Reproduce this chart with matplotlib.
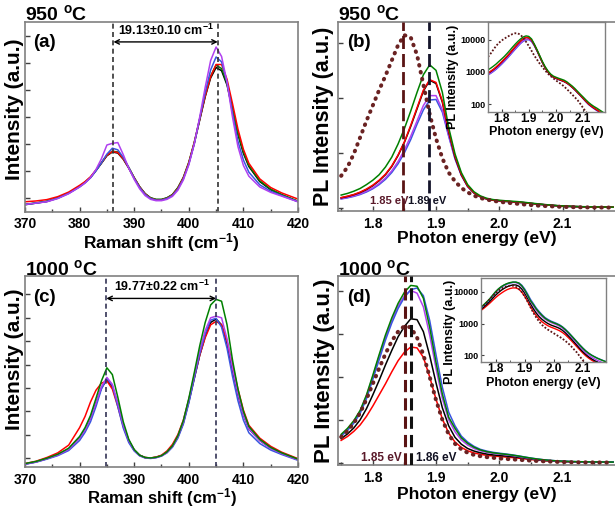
import numpy as np
import matplotlib
matplotlib.use('Agg')
from matplotlib import pyplot as plt
from matplotlib.ticker import MultipleLocator, NullLocator

plt.rcParams['font.family'] = ['Liberation Sans', 'DejaVu Sans']
plt.rcParams['font.weight'] = 'bold'
plt.rcParams['mathtext.fontset'] = 'custom'
plt.rcParams['mathtext.rm'] = 'Liberation Sans:bold'
plt.rcParams['mathtext.bf'] = 'Liberation Sans:bold'
plt.rcParams['mathtext.default'] = 'rm'

W, H = 615, 508

# ---------------- Raman data (a.u.) ----------------
raman_x = [370, 372, 374, 376, 378,
           380, 381, 382, 383, 384, 385, 386, 387, 388, 389,
           390, 391, 392, 393, 394, 395, 396, 397, 398, 399,
           400, 401, 402, 403, 404, 405, 406, 407, 408, 409,
           410, 411,
           413, 415, 417, 420]

# 950 C
ra_black = [-0.26, -0.2, -0.14, -0.01, 0.17,
            0.42, 0.57, 0.75, 1.01, 1.28, 1.56, 1.70, 1.66, 1.43, 1.10,
            0.73, 0.40, 0.15, -0.01, -0.07, -0.07, -0.01, 0.11, 0.36, 0.73,
            1.28, 2.02, 2.89, 3.75, 4.45, 4.84, 4.72, 4.19, 3.28, 2.35,
            1.65, 1.16,
            0.60, 0.30, 0.11, -0.14]
ra_green = [-0.25, -0.19, -0.13, 0.0, 0.18,
            0.43, 0.58, 0.76, 1.02, 1.30, 1.58, 1.73, 1.70, 1.47, 1.13,
            0.75, 0.41, 0.15, 0.0, -0.06, -0.06, 0.0, 0.12, 0.38, 0.76,
            1.32, 2.06, 2.93, 3.80, 4.52, 4.93, 4.80, 4.25, 3.33, 2.40,
            1.70, 1.20,
            0.63, 0.32, 0.12, -0.13]
ra_red = [-0.15, -0.12, -0.07, 0.04, 0.21,
          0.46, 0.60, 0.78, 1.03, 1.30, 1.58, 1.72, 1.68, 1.45, 1.11,
          0.74, 0.40, 0.14, -0.02, -0.08, -0.08, -0.02, 0.10, 0.35, 0.74,
          1.30, 2.05, 2.92, 3.78, 4.50, 4.95, 4.95, 4.40, 3.50, 2.55,
          1.80, 1.28,
          0.70, 0.38, 0.18, -0.05]
ra_blue = [-0.25, -0.2, -0.14, -0.02, 0.16,
           0.40, 0.55, 0.74, 1.00, 1.30, 1.62, 1.84, 1.78, 1.50, 1.12,
           0.72, 0.38, 0.12, -0.03, -0.09, -0.09, -0.03, 0.08, 0.32, 0.70,
           1.25, 2.00, 2.95, 3.90, 4.75, 5.23, 5.05, 4.30, 3.15, 2.10,
           1.40, 0.95,
           0.48, 0.24, 0.08, -0.15]
ra_purple = [-0.25, -0.2, -0.15, -0.03, 0.15,
             0.40, 0.55, 0.75, 1.05, 1.45, 1.96, 2.02, 2.05, 1.60, 1.10,
             0.68, 0.33, 0.08, -0.06, -0.11, -0.11, -0.06, 0.05, 0.28, 0.66,
             1.22, 2.00, 3.00, 4.10, 5.10, 5.60, 5.25, 4.30, 3.00, 1.90,
             1.20, 0.80,
             0.40, 0.20, 0.06, -0.15]

# 1000 C
rc_black = [-0.26, -0.17, -0.03, 0.14, 0.38,
            0.86, 1.22, 1.71, 2.35, 3.00, 3.35, 3.05, 2.30, 1.40, 0.75,
            0.35, 0.12, 0.02, 0.0, 0.03, 0.10, 0.25, 0.50, 0.90, 1.50,
            2.40, 3.40, 4.40, 5.20, 5.80, 5.95, 5.70, 4.90, 3.75, 2.70,
            1.85, 1.25,
            0.75, 0.42, 0.20, -0.07]
rc_green = [-0.24, -0.15, -0.01, 0.16, 0.42,
            0.92, 1.30, 1.82, 2.55, 3.30, 3.86, 3.57, 2.60, 1.55, 0.80,
            0.36, 0.12, 0.02, 0.0, 0.03, 0.10, 0.26, 0.52, 0.95, 1.60,
            2.55, 3.65, 4.80, 5.80, 6.55, 6.79, 6.71, 5.71, 4.20, 2.95,
            2.00, 1.35,
            0.80, 0.45, 0.22, -0.05]
rc_red = [-0.24, -0.14, 0.02, 0.22, 0.55,
          1.30, 1.78, 2.40, 2.90, 3.20, 3.30, 2.95, 2.20, 1.35, 0.72,
          0.33, 0.11, 0.02, 0.0, 0.04, 0.12, 0.30, 0.58, 1.00, 1.62,
          2.50, 3.45, 4.40, 5.15, 5.70, 5.85, 5.70, 5.00, 4.00, 2.95,
          2.05, 1.40,
          0.85, 0.50, 0.25, -0.03]
rc_blue = [-0.27, -0.18, -0.05, 0.10, 0.32,
           0.75, 1.10, 1.55, 2.20, 2.95, 3.40, 3.10, 2.20, 1.28, 0.66,
           0.30, 0.09, 0.0, -0.02, 0.01, 0.08, 0.22, 0.46, 0.85, 1.45,
           2.35, 3.40, 4.45, 5.30, 5.90, 5.98, 5.60, 4.70, 3.50, 2.45,
           1.62, 1.08,
           0.62, 0.34, 0.15, -0.1]
rc_purple = [-0.26, -0.17, -0.03, 0.13, 0.37,
             0.85, 1.20, 1.70, 2.35, 3.05, 3.45, 3.15, 2.35, 1.42, 0.75,
             0.34, 0.11, 0.01, -0.01, 0.02, 0.09, 0.24, 0.50, 0.92, 1.55,
             2.50, 3.55, 4.60, 5.45, 6.00, 6.07, 6.00, 5.10, 3.85, 2.75,
             1.85, 1.25,
             0.74, 0.41, 0.19, -0.08]

# ---------------- PL data (counts) ----------------
pl_x = np.round(np.arange(1.75, 2.185, 0.01), 2)

# 950 C
pb_maroon = [2900, 3700, 4900, 6400, 7900,
             9300, 10700, 12000, 13400, 14800,
             15700, 15500, 13900, 11200, 8500,
             6300, 4500, 3200, 2400, 1800,
             1400, 1100, 880, 740, 630,
             540, 470, 410, 350, 290,
             240, 195, 160, 130, 100,
             75, 58, 45, 35, 28,
             22, 18, 14, 11]
pb_green = [1150, 1300, 1500, 1750, 2100,
            2500, 3000, 3700, 4600, 5800,
            7200, 8800, 10500, 12100, 13000,
            12500, 10500, 7300, 4900, 3200,
            2100, 1450, 1080, 860, 740,
            680, 630, 590, 550, 490,
            420, 360, 300, 245, 200,
            165, 135, 112, 96, 84,
            75, 66, 58, 51]
pb_black = [900, 1020, 1180, 1380, 1650,
            2000, 2450, 3000, 3750, 4750,
            5950, 7400, 9000, 10600, 11600,
            11300, 9600, 6900, 4600, 3000,
            1950, 1350, 1000, 800, 690,
            630, 580, 540, 500, 450,
            390, 330, 275, 225, 185,
            150, 122, 100, 86, 75,
            66, 58, 51, 45]
pb_red = [920, 1050, 1200, 1420, 1700,
          2050, 2500, 3050, 3800, 4800,
          6000, 7500, 9100, 10700, 11650,
          11400, 9700, 7000, 4700, 3050,
          1980, 1370, 1010, 810, 700,
          640, 590, 550, 505, 455,
          395, 335, 280, 228, 187,
          152, 124, 102, 87, 76,
          67, 59, 52, 46]
pb_purple = [820, 930, 1070, 1250, 1500,
             1800, 2200, 2700, 3350, 4200,
             5250, 6500, 7900, 9300, 10200,
             10200, 8900, 6600, 4500, 2950,
             1920, 1330, 990, 790, 680,
             620, 575, 535, 495, 445,
             385, 325, 270, 220, 180,
             146, 118, 97, 83, 72,
             63, 55, 48, 42]
pb_blue = [800, 900, 1030, 1200, 1430,
           1720, 2100, 2580, 3200, 4000,
           5000, 6200, 7600, 8900, 9800,
           9850, 8700, 6500, 4450, 2950,
           1930, 1340, 1000, 800, 690,
           630, 580, 540, 500, 450,
           390, 330, 275, 224, 183,
           148, 120, 98, 84, 73,
           64, 56, 49, 43]

# 1000 C
pd_maroon = [3000, 3700, 4600, 5800, 7400,
             9200, 11000, 12700, 14200, 15300,
             15950, 15800, 14600, 12600, 10000,
             7300, 5000, 3300, 2200, 1550,
             1150, 900, 750, 640, 560,
             490, 430, 380, 330, 280,
             235, 190, 150, 120, 90,
             68, 52, 40, 31, 25,
             20, 16, 13, 11]
pd_green = [3300, 4000, 4900, 6100, 7900,
            10200, 12600, 14900, 16900, 18600,
            19900, 20700, 20600, 19200, 15800,
            11700, 8000, 5300, 4000, 2900,
            2250, 1800, 1480, 1280, 1150,
            1050, 970, 880, 770, 640,
            520, 415, 330, 260, 205,
            165, 135, 114, 99, 88,
            79, 72, 66, 61]
pd_blue = [3100, 3750, 4600, 5750, 7450,
           9700, 12000, 14300, 16300, 18000,
           19300, 20200, 20400, 19500, 16600,
           12600, 8800, 5900, 4300, 3100,
           2400, 1900, 1550, 1350, 1200,
           1100, 1010, 910, 790, 660,
           535, 425, 335, 265, 210,
           168, 137, 115, 100, 89,
           80, 73, 67, 62]
pd_purple = [3200, 3900, 4800, 6000, 7800,
             10000, 12400, 14600, 16600, 18300,
             19500, 20100, 19800, 18200, 14900,
             11000, 7500, 5000, 3600, 2650,
             2050, 1650, 1380, 1200, 1080,
             990, 910, 820, 710, 590,
             480, 380, 300, 235, 185,
             148, 120, 100, 86, 76,
             68, 62, 56, 52]
pd_black = [2800, 3350, 4050, 5000, 6300,
            7900, 9600, 11400, 13100, 14700,
            15900, 16800, 16700, 15300, 12500,
            9300, 6400, 4300, 2950, 2150,
            1650, 1350, 1150, 1000, 900,
            830, 770, 700, 610, 510,
            410, 330, 260, 205, 160,
            128, 105, 88, 76, 67,
            60, 54, 49, 45]
pd_red = [2600, 3050, 3650, 4400, 5400,
          6600, 7900, 9200, 10600, 11900,
          12900, 13500, 13400, 12300, 10000,
          7400, 5100, 3450, 2400, 1780,
          1380, 1130, 970, 850, 770,
          710, 650, 590, 520, 440,
          360, 290, 230, 182, 145,
          116, 95, 80, 69, 61,
          55, 50, 45, 41]

C_PURPLE = '#b040f0'
C_BLUE = '#3a55e0'
C_RED = '#ff0000'
C_BLACK = '#000000'
C_GREEN = '#008000'
C_MAROON = '#5a1414'
C_DOTS = '#6a2222'
C_SPINE = '#808080'


def box(l, t, r, b):
    return [l / W, 1 - b / H, (r - l) / W, (b - t) / H]


def style_main(ax, pad):
    for s in ax.spines.values():
        s.set_color(C_SPINE)
        s.set_linewidth(1.2)
    ax.tick_params(which='both', direction='in', top=False, right=False,
                   labelleft=False, color='#404040', labelsize=10, pad=pad)
    ax.tick_params(which='major', length=3.5, width=1)
    ax.tick_params(which='minor', length=2, width=1)
    ax.tick_params(axis='y', which='minor', left=False)


def style_inset(ax):
    for s in ax.spines.values():
        s.set_color(C_SPINE)
        s.set_linewidth(1.0)
    ax.set_yscale('log')
    ax.set_xlim(1.75, 2.18)
    ax.set_yticks([100, 1000, 10000])
    ax.set_yticklabels(['100', '1000', '10000'])
    ax.yaxis.set_minor_locator(NullLocator())
    ax.xaxis.set_major_locator(MultipleLocator(0.1))
    ax.xaxis.set_minor_locator(MultipleLocator(0.05))
    ax.tick_params(which='both', direction='in', top=False, right=False, color='#404040')
    ax.tick_params(axis='y', labelsize=6.5, pad=1.5, length=2.5)
    ax.tick_params(axis='x', labelsize=8.5, pad=1, length=2.5)
    ax.tick_params(axis='x', which='minor', length=1.5)
    ax.set_ylabel('PL Intensity (a.u.)', fontsize=9, fontweight='bold')
    ax.set_xlabel('Photon energy (eV)', fontsize=9, fontweight='bold', va='top')


def dots(ax, ys):
    # the dotted maroon series, drawn as a chain of round dots
    ax.plot(pl_x, ys, color=C_DOTS, lw=2.9, linestyle=(0, (0.15, 1.6)),
            dash_capstyle='round', zorder=5)


fig = plt.figure(figsize=(W / 100, H / 100), dpi=100)

# ---------------- (a) ----------------
ax = fig.add_axes(box(25, 22, 298, 212))
for ys, c in [(ra_black, C_BLACK), (ra_green, C_GREEN), (ra_red, C_RED),
              (ra_blue, C_BLUE), (ra_purple, C_PURPLE)]:
    ax.plot(raman_x, ys, color=c, lw=1.1)
ax.set_xlim(370, 420)
ax.set_ylim(-0.53, 6.53)
ax.yaxis.set_major_locator(MultipleLocator(1))
ax.xaxis.set_major_locator(MultipleLocator(10))
ax.xaxis.set_minor_locator(MultipleLocator(5))
style_main(ax, 3.5)
for xv in (386.2, 405.3):
    ax.axvline(xv, color='#333333', lw=1.2, dashes=(3, 2))
ax.annotate('', xy=(405.3, 5.79), xytext=(386.2, 5.79),
            arrowprops=dict(arrowstyle='<->', lw=1, color='k', mutation_scale=8,
                            shrinkA=0, shrinkB=0))
ax.text(395.75, 5.95, '19.13\u00b10.10 cm$^{-1}$', ha='center', va='bottom',
        fontsize=9, fontweight='bold')
ax.set_xlabel('Raman shift (cm$^{-1}$)', fontsize=12.5, fontweight='bold', va='top')
ax.xaxis.set_label_coords(0.5, -0.1)
ax.set_ylabel('Intensity (a.u.)', fontsize=15, fontweight='bold')
ax.yaxis.set_label_coords(-0.003, 0.54)

# ---------------- (c) ----------------
ax = fig.add_axes(box(25, 276, 298, 467))
for ys, c in [(rc_black, C_BLACK), (rc_red, C_RED), (rc_blue, C_BLUE),
              (rc_purple, C_PURPLE), (rc_green, C_GREEN)]:
    ax.plot(raman_x, ys, color=c, lw=1.1)
ax.set_xlim(370, 420)
ax.set_ylim(-0.386, 7.79)
ax.yaxis.set_major_locator(MultipleLocator(1))
ax.xaxis.set_major_locator(MultipleLocator(10))
ax.xaxis.set_minor_locator(MultipleLocator(5))
style_main(ax, 4.5)
for xv in (384.9, 405.0):
    ax.axvline(xv, color='#333355', lw=1.2, dashes=(3, 2))
ax.annotate('', xy=(405.0, 6.83), xytext=(384.9, 6.83),
            arrowprops=dict(arrowstyle='<->', lw=1, color='k', mutation_scale=8,
                            shrinkA=0, shrinkB=0))
ax.text(395.0, 7.0, '19.77\u00b10.22 cm$^{-1}$', ha='center', va='bottom',
        fontsize=9, fontweight='bold')
ax.set_xlabel('Raman shift (cm$^{-1}$)', fontsize=12, fontweight='bold', va='top')
ax.xaxis.set_label_coords(0.5, -0.1)
ax.set_ylabel('Intensity (a.u.)', fontsize=15, fontweight='bold')
ax.yaxis.set_label_coords(-0.003, 0.565)

# ---------------- (b) ----------------
ax = fig.add_axes(box(338, 22, 615, 211))
for ys, c in [(pb_blue, C_BLUE), (pb_purple, C_PURPLE), (pb_black, C_BLACK),
              (pb_red, C_RED), (pb_green, C_GREEN)]:
    ax.plot(pl_x, ys, color=c, lw=1.1)
dots(ax, pb_maroon)
ax.axvline(1.848, color=C_MAROON, lw=2, dashes=(4.7, 1.8), zorder=6)
ax.axvline(1.889, color='#14142a', lw=2, dashes=(4.7, 1.8), zorder=6)
ax.set_xlim(1.745, 2.183)
ax.set_ylim(-300, 16900)
ax.yaxis.set_major_locator(MultipleLocator(5000))
ax.xaxis.set_major_locator(MultipleLocator(0.1))
ax.xaxis.set_minor_locator(MultipleLocator(0.05))
style_main(ax, 4.5)
ax.spines['right'].set_visible(False)
ax.text(1.796, 600, '1.85 eV', color='#5a1a2a', fontsize=8, fontweight='bold',
        ha='left', va='center', zorder=7)
ax.text(1.856, 600, '1.89 eV', color='#111122', fontsize=8, fontweight='bold',
        ha='left', va='center', zorder=7)
ax.set_xlabel('Photon energy (eV)', fontsize=12.5, fontweight='bold', va='top')
ax.xaxis.set_label_coords(0.5, -0.105)
ax.set_ylabel('PL Intensity (a.u.)', fontsize=15.5, fontweight='bold')
ax.yaxis.set_label_coords(-0.0145, 0.5)

ins = fig.add_axes(box(488, 22, 605, 112))
for ys, c in [(pb_blue, C_BLUE), (pb_purple, C_PURPLE), (pb_black, C_BLACK),
              (pb_red, C_RED), (pb_green, C_GREEN)]:
    ins.plot(pl_x, ys, color=c, lw=1.0)
ins.plot(pl_x, pb_maroon, color=C_MAROON, lw=1.3, dashes=(1, 1))
ins.set_ylim(57, 35000)
style_inset(ins)
ins.yaxis.set_label_coords(-0.25, 0.39)
ins.xaxis.set_label_coords(0.5, -0.152)

# ---------------- (d) ----------------
ax = fig.add_axes(box(338, 276, 615, 465))
for ys, c in [(pd_red, C_RED), (pd_black, C_BLACK), (pd_purple, C_PURPLE),
              (pd_blue, C_BLUE), (pd_green, C_GREEN)]:
    ax.plot(pl_x, ys, color=c, lw=1.1)
dots(ax, pd_maroon)
ax.axvline(1.851, color=C_MAROON, lw=2.2, dashes=(4, 2), zorder=6)
ax.axvline(1.860, color='#111111', lw=2.2, dashes=(4, 2), zorder=6)
ax.set_xlim(1.745, 2.183)
ax.set_ylim(-280, 21800)
ax.yaxis.set_major_locator(MultipleLocator(5000))
ax.xaxis.set_major_locator(MultipleLocator(0.1))
ax.xaxis.set_minor_locator(MultipleLocator(0.05))
style_main(ax, 4.5)
ax.spines['right'].set_visible(False)
ax.text(1.782, 500, '1.85 eV', color='#5a1a2a', fontsize=8.5, fontweight='bold',
        ha='left', va='center', zorder=7)
ax.text(1.869, 500, '1.86 eV', color='#111122', fontsize=8.5, fontweight='bold',
        ha='left', va='center', zorder=7)
ax.set_xlabel('Photon energy (eV)', fontsize=12.5, fontweight='bold', va='top')
ax.xaxis.set_label_coords(0.5, -0.118)
ax.set_ylabel('PL Intensity (a.u.)', fontsize=16, fontweight='bold')
ax.yaxis.set_label_coords(-0.011, 0.5)

ins = fig.add_axes(box(481, 278, 606, 362))
for ys, c in [(pd_red, C_RED), (pd_black, C_BLACK), (pd_purple, C_PURPLE),
              (pd_blue, C_BLUE), (pd_green, C_GREEN)]:
    ins.plot(pl_x, ys, color=c, lw=1.0)
ins.plot(pl_x, pd_maroon, color=C_MAROON, lw=1.3, dashes=(1, 1))
ins.set_ylim(60, 27800)
style_inset(ins)
ins.yaxis.set_label_coords(-0.2, 0.357)
ins.xaxis.set_label_coords(0.5, -0.18)

# ---------------- titles and panel letters ----------------
for x, y, s in [(25, 20, '950 $^{o}$C'), (338, 20, '950 $^{o}$C'),
                (25, 275, '1000 $^{o}$C'), (338, 275, '1000 $^{o}$C')]:
    fig.text(x / W, 1 - y / H, s, fontsize=14, fontweight='bold', va='baseline',
             ha='left')
for x, y, s in [(33, 42.5, '(a)'), (347, 42.5, '(b)'),
                (33, 298, '(c)'), (347, 298, '(d)')]:
    fig.text(x / W, 1 - y / H, s, fontsize=13.5, fontweight='bold', va='center',
             ha='left')

fig.savefig('out.png', dpi=100)
